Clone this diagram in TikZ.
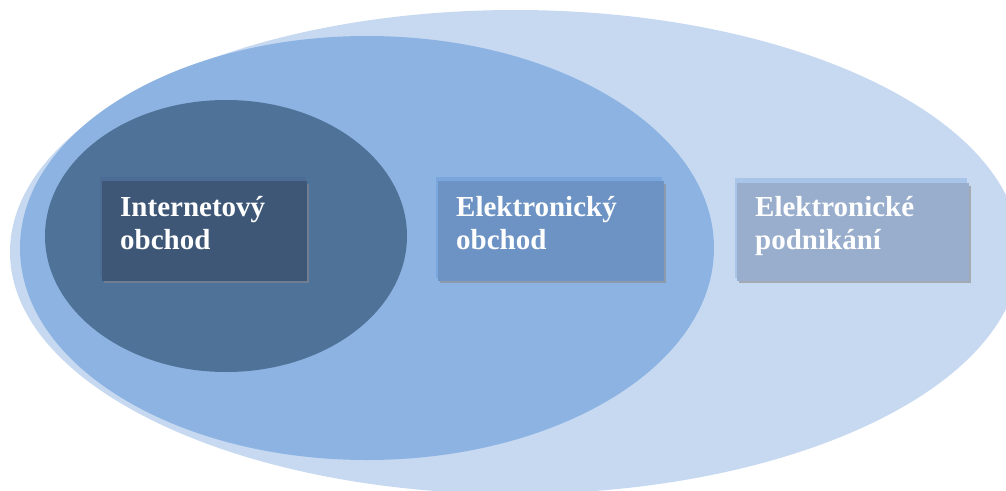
\documentclass[tikz,border=0pt]{standalone}
\usepackage{fontspec}
\setmainfont{Liberation Serif}
\begin{document}
\begin{tikzpicture}[x=1pt,y=-1pt,
  label/.style={anchor=base west,inner sep=0pt,align=left,text=white,
    font=\fontsize{29}{33}\selectfont\bfseries}]
\definecolor{outerC}{HTML}{C6D9F1}
\definecolor{middleC}{HTML}{8DB3E2}
\definecolor{innerC}{HTML}{4F7299}
\definecolor{boxAback}{HTML}{4C6C96}
\definecolor{boxAmain}{HTML}{3E5777}
\definecolor{boxAline}{HTML}{6F7E92}
\definecolor{boxBback}{HTML}{7AA6DE}
\definecolor{boxBmain}{HTML}{6C93C3}
\definecolor{boxBline}{HTML}{8C9AAC}
\definecolor{boxCback}{HTML}{A8C4E9}
\definecolor{boxCmain}{HTML}{98AECC}
\definecolor{boxCline}{HTML}{A3AAB4}
\useasboundingbox (0,0) rectangle (1006,490);
\clip (0,0) rectangle (1006,490);
% nested sets
\fill[outerC] (515,252) ellipse [x radius=505, y radius=242];
\fill[middleC] (367,248) ellipse [x radius=347, y radius=212];
\fill[innerC] (226,236) ellipse [x radius=181, y radius=136];
% box: Internetový obchod
\fill[boxAback] (100,177) rectangle (306,278);
\fill[boxAline] (104,184) rectangle (308.5,282.5);
\fill[boxAmain] (102,181) rectangle (306.5,280.5);
\node[label] (ia) at (120,249) {Internetový\\obchod};
% box: Elektronický obchod
\fill[boxBback] (436,177) rectangle (662,278);
\fill[boxBline] (440,184) rectangle (665.5,282.5);
\fill[boxBmain] (438,181) rectangle (663.5,280.5);
\node[label] (eo) at (456,249) {Elektronický\\obchod};
% box: Elektronické podnikání
\fill[boxCback] (735,178) rectangle (967,278);
\fill[boxCline] (739,186) rectangle (970.5,282.5);
\fill[boxCmain] (737,183) rectangle (968.5,280.5);
\node[label] (ep) at (755,249) {Elektronické\\podnikání};
\end{tikzpicture}
\end{document}
